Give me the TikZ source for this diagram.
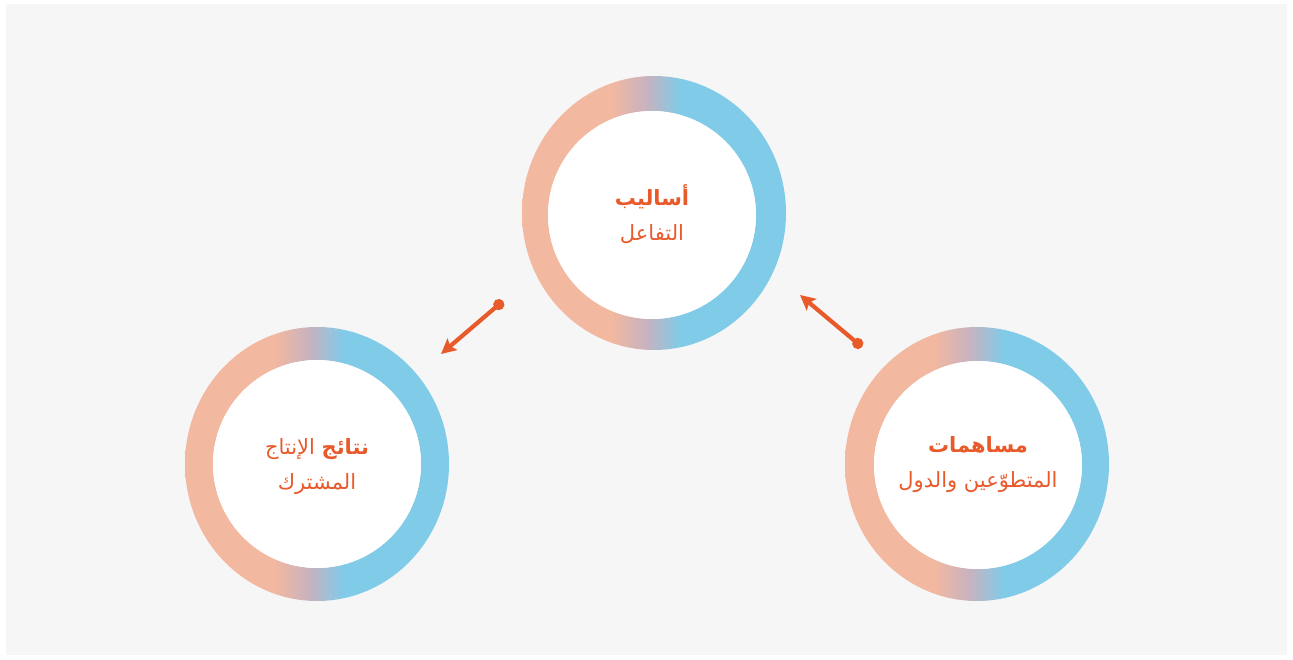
\documentclass[tikz,border=0pt]{standalone}
\usepackage{fontspec}
\newfontfamily\arabicfont[Script=Arabic]{DejaVu Sans}
\TeXXeTstate=1
\usetikzlibrary{arrows.meta}
\definecolor{bgc}{HTML}{F6F6F6}
\definecolor{sal}{HTML}{F2B8A0}
\definecolor{mauve}{HTML}{C8B2BF}
\definecolor{blu}{HTML}{80CBE8}
\definecolor{accent}{HTML}{E95A2B}
\pgfdeclarehorizontalshading{ringshade}{100bp}{color(0bp)=(sal); color(42bp)=(sal); color(48.5bp)=(mauve); color(55bp)=(blu); color(100bp)=(blu)}
\tikzset{
  ring/.style={shading=ringshade, even odd rule},
  label/.style={text=accent, align=center, font=\arabicfont\fontsize{21}{35}\selectfont},
  link/.style={accent, line width=4.2pt, {Circle[length=11pt]}-{Stealth[length=15pt,width=15pt,inset=3pt]}}
}
\begin{document}
\begin{tikzpicture}[x=1pt,y=-1pt]
\useasboundingbox (0,0) rectangle (1293,659);
\fill[white] (0,0) rectangle (1293,659);
\fill[bgc] (6,4) rectangle (1287,655);
% top
\shade[ring] (654,213) ellipse [x radius=132, y radius=137] (652,215) circle [radius=104];
\fill[white] (652,215) circle [radius=104];
% left
\shade[ring] (317,464) ellipse [x radius=132, y radius=137] (317,464) circle [radius=104];
\fill[white] (317,464) circle [radius=104];
% right
\shade[ring] (977,464) ellipse [x radius=132, y radius=137] (978,465) circle [radius=104];
\fill[white] (978,465) circle [radius=104];
\node[label] (top) at (652,214) {{\bfseries\beginR أساليب\endR}\\\beginR التفاعل\endR};
\node[label] (left) at (317,467) {\beginR{\bfseries نتائج} الإنتاج\endR\\\beginR المشترك\endR};
\node[label] (right) at (978,465) {{\bfseries\beginR مساهمات\endR}\\\beginR المتطوّعين والدول\endR};
\coordinate (d1) at (503,301);
\coordinate (t1) at (441,354);
\coordinate (d2) at (862,347);
\coordinate (t2) at (800,295);
\draw[link] (d1) -- (t1);
\draw[link] (d2) -- (t2);
\end{tikzpicture}
\end{document}
